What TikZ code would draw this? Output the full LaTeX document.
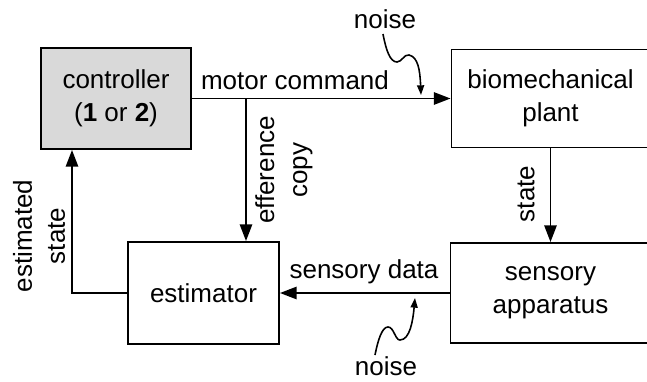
\documentclass[tikz,border=0pt]{standalone}
\usepackage{fontspec}
\setmainfont{Liberation Sans}
\usetikzlibrary{arrows.meta}

\begin{document}
\begin{tikzpicture}[
    x=0.02cm, y=-0.02cm,
    font=\fontsize{14.8}{18.8}\selectfont,
    block/.style={draw,line width=1.1pt,align=center,inner sep=0pt},
    flow/.style={line width=1.1pt,-{Triangle[length=9.5pt,width=7pt]}},
    noise arrow/.style={line width=0.9pt,-{Triangle[length=5.5pt,width=4pt]}},
    side label/.style={rotate=90,align=center,inner sep=0pt}
]
\useasboundingbox (0,0) rectangle (647,382);

% Blocos
\node[block,fill=gray!30,minimum width=3cm,minimum height=2.02cm] (ctrl) at (116,98.5) {controller\\(\textbf{1} or \textbf{2})};
\node[block,minimum width=3.96cm,minimum height=1.96cm] (plant) at (550.5,98.5) {biomechanical\\plant};
\node[block,minimum width=4cm,minimum height=2cm] (sens) at (550.5,293) {sensory\\apparatus};
\node[block,minimum width=3.02cm,minimum height=2.04cm] (est) at (203.5,293) {estimator};

% Pontos auxiliares
\coordinate (split) at (246,98.5);
\coordinate (fb) at (72,293);

% Ligacoes
\draw[flow] (ctrl.east) -- (plant.west);
\draw[flow] (split) -- (split |- est.north);
\draw[flow] (plant.south) -- (sens.north);
\draw[flow] (sens.west) -- (est.east);
\draw[flow] (est.west) -- (fb) -- (fb |- ctrl.south);

% Rotulos
\node (mc) at (295,80) {motor command};
\node (sd) at (364,272) {sensory data};
\node[side label] (ec) at (284,170) {efference\\copy};
\node[side label] (st) at (526,194) {state};
\node[side label] (es) at (39,236) {estimated\\state};

% Ruido
\node (n1) at (385,19) {noise};
\node (n2) at (386,366) {noise};
\draw[noise arrow] (383,34) .. controls (386,50) and (390,62) .. (397,62)
    .. controls (402,62) and (404,54) .. (409,55)
    .. controls (418,57) and (420,70) .. (421,95);
\draw[noise arrow] (375,355) .. controls (378,340) and (382,327) .. (388,327)
    .. controls (394,327) and (395,340) .. (400,340)
    .. controls (410,340) and (413,320) .. (415,298);

\end{tikzpicture}
\end{document}
